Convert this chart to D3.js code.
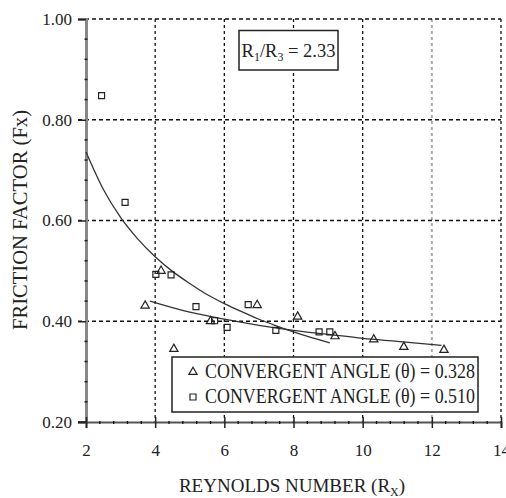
<!DOCTYPE html>
<html>
<head>
<meta charset="utf-8">
<script src="https://cdn.jsdelivr.net/npm/d3@7"></script>
<style>
  body { margin: 0; background: #fff; }
  svg { display: block; }
  text { font-family: "Liberation Serif", "Times New Roman", serif; fill: #222; }
</style>
</head>
<body>
<svg id="chart" width="506" height="498"></svg>
<script>
// Friction factor vs Reynolds number, two convergent angles
const xTicks = [2, 4, 6, 8, 10, 12, 14];
const yTicks = [0.20, 0.40, 0.60, 0.80, 1.00];

// θ = 0.328 (triangles)
const triX = [3.71, 4.17, 4.54, 5.60, 6.95, 8.12, 9.20, 10.32, 11.19, 12.35];
const triY = [0.431, 0.500, 0.345, 0.400, 0.432, 0.409, 0.370, 0.364, 0.349, 0.343];
// θ = 0.510 (squares)
const sqX = [2.45, 3.13, 4.02, 4.46, 5.18, 5.72, 6.08, 6.69, 7.49, 8.74, 9.05];
const sqY = [0.848, 0.636, 0.493, 0.492, 0.429, 0.401, 0.388, 0.433, 0.382, 0.379, 0.379];

// fitted trend lines, sampled along each curve
const triFitX = [3.85, 5, 6, 7, 8, 9, 10, 11, 12.28];
const triFitY = [0.440, 0.418, 0.404, 0.392, 0.382, 0.374, 0.366, 0.360, 0.352];
const sqFitX = [2, 2.5, 3, 3.5, 4, 4.5, 5, 5.5, 6, 6.5, 7, 7.5, 8, 8.5, 9.05];
const sqFitY = [0.736, 0.662, 0.606, 0.563, 0.528, 0.499, 0.475, 0.453, 0.435, 0.419, 0.404, 0.391, 0.379, 0.368, 0.357];

const legendLabels = ["CONVERGENT ANGLE (\u03B8) = 0.328", "CONVERGENT ANGLE (\u03B8) = 0.510"];

const svg = d3.select("#chart");
const x = d3.scaleLinear().domain([2, 14]).range([86, 501]);
const y = d3.scaleLinear().domain([0.2, 1.0]).range([422, 19]);

// grid lines (dashed)
const grid = svg.append("g");
grid.selectAll("line.v").data(xTicks.slice(1)).join("line")
  .attr("x1", d => x(d)).attr("x2", d => x(d))
  .attr("y1", y(1.0)).attr("y2", y(0.2))
  .attr("stroke", d => d === 12 ? "#aaa" : "#111")
  .attr("stroke-width", d => d === 12 ? 2 : 1.3)
  .attr("stroke-dasharray", "3,3");
grid.selectAll("line.h").data(yTicks.slice(1)).join("line")
  .attr("x1", x(2) - 8).attr("x2", x(14))
  .attr("y1", d => y(d)).attr("y2", d => y(d))
  .attr("stroke", "#111").attr("stroke-width", 1.3)
  .attr("stroke-dasharray", "4,3");

// axes
const yAxis = svg.append("g").attr("transform", `translate(${x(2)},0)`)
  .call(d3.axisLeft(y).tickValues(yTicks).tickFormat(d3.format(".2f")).tickSize(8).tickPadding(6));
yAxis.select(".domain").attr("stroke", "#888").attr("stroke-width", 3);
yAxis.selectAll(".tick line").attr("stroke", "#222").attr("stroke-width", 1.5);
yAxis.selectAll("text").style("font-size", "17px").attr("fill", "#222")
  .style("font-family", "Liberation Serif, serif");

const xAxis = svg.append("g").attr("transform", `translate(0,${y(0.2)})`)
  .call(d3.axisBottom(x).tickValues(xTicks).tickFormat(d3.format("d")).tickSize(6).tickPadding(16));
xAxis.select(".domain").attr("stroke", "#555").attr("stroke-width", 2);
xAxis.selectAll(".tick line").attr("stroke", "#222").attr("stroke-width", 1.5).attr("y1", -5);
xAxis.selectAll("text").style("font-size", "17px").attr("fill", "#222")
  .style("font-family", "Liberation Serif, serif");
svg.append("line").attr("x1", x(2) - 8).attr("x2", x(2))
  .attr("y1", y(0.2)).attr("y2", y(0.2)).attr("stroke", "#222").attr("stroke-width", 1.5);

// minor ticks
const xMinor = d3.range(2, 14.001, 0.4).filter(v => Math.abs(v - Math.round(v / 2) * 2) > 0.01);
svg.append("g").selectAll("line").data(xMinor).join("line")
  .attr("x1", d => x(d)).attr("x2", d => x(d))
  .attr("y1", y(0.2) - 1).attr("y2", y(0.2) + 2)
  .attr("stroke", "#111").attr("stroke-width", 1.3);
const yMinor = d3.range(0.2, 1.0001, 0.04).filter(v => Math.abs(v * 5 - Math.round(v * 5)) > 0.01);
svg.append("g").selectAll("line").data(yMinor).join("line")
  .attr("x1", x(2) - 1.5).attr("x2", x(2) + 1.5)
  .attr("y1", d => y(d)).attr("y2", d => y(d))
  .attr("stroke", "#222").attr("stroke-width", 1.5);

// trend lines
const line = d3.line().x(d => x(d[0])).y(d => y(d[1])).curve(d3.curveMonotoneX);
svg.append("path").datum(sqFitX.map((v, i) => [v, sqFitY[i]]))
  .attr("d", line).attr("fill", "none").attr("stroke", "#333").attr("stroke-width", 1.3);
svg.append("path").datum(triFitX.map((v, i) => [v, triFitY[i]]))
  .attr("d", line).attr("fill", "none").attr("stroke", "#333").attr("stroke-width", 1.3);

// markers
const triSym = d3.symbol().type(d3.symbolTriangle).size(30);
const sqSym = d3.symbol().type(d3.symbolSquare).size(36);
svg.append("g").selectAll("path").data(sqX.map((v, i) => [v, sqY[i]])).join("path")
  .attr("d", sqSym).attr("transform", d => `translate(${x(d[0])},${y(d[1])})`)
  .attr("fill", "none").attr("stroke", "#222").attr("stroke-width", 1.2);
svg.append("g").selectAll("path").data(triX.map((v, i) => [v, triY[i]])).join("path")
  .attr("d", triSym).attr("transform", d => `translate(${x(d[0])},${y(d[1])})`)
  .attr("fill", "none").attr("stroke", "#222").attr("stroke-width", 1.2);

// ratio annotation
const ann = svg.append("g");
ann.append("rect").attr("x", 239).attr("y", 30.5).attr("width", 99).attr("height", 39.5)
  .attr("fill", "#fff").attr("stroke", "#222").attr("stroke-width", 1.5);
const annT = ann.append("text").attr("x", 288.5).attr("y", 57).attr("text-anchor", "middle")
  .style("font-size", "18.5px");
annT.append("tspan").text("R");
annT.append("tspan").attr("dy", 4).style("font-size", "12px").text("1");
annT.append("tspan").attr("dy", -4).text("/R");
annT.append("tspan").attr("dy", 4).style("font-size", "12px").text("3");
annT.append("tspan").attr("dy", -4).text(" = 2.33");

// legend
const leg = svg.append("g");
leg.append("rect").attr("x", 172).attr("y", 357).attr("width", 306).attr("height", 55)
  .attr("fill", "#fff").attr("stroke", "#222").attr("stroke-width", 1.5);
const legRows = [{ sym: triSym, label: legendLabels[0], yy: 378 }, { sym: sqSym, label: legendLabels[1], yy: 403 }];
legRows.forEach(r => {
  leg.append("path").attr("d", r.sym).attr("transform", `translate(193,${r.yy - 6})`)
    .attr("fill", "none").attr("stroke", "#222").attr("stroke-width", 1.2);
  leg.append("text").attr("x", 205).attr("y", r.yy).style("font-size", "20px")
    .attr("textLength", 270).attr("lengthAdjust", "spacingAndGlyphs").text(r.label);
});

// axis titles
const xt = svg.append("text").attr("x", 292).attr("y", 492).attr("text-anchor", "middle")
  .style("font-size", "19px");
xt.append("tspan").text("REYNOLDS NUMBER (R");
xt.append("tspan").attr("dy", 4).style("font-size", "12px").text("X");
xt.append("tspan").attr("dy", -4).text(")");

svg.append("text").attr("transform", "translate(27,220) rotate(-90)").attr("text-anchor", "middle")
  .style("font-size", "20px").attr("textLength", 220).attr("lengthAdjust", "spacingAndGlyphs")
  .text("FRICTION FACTOR (Fx)");
</script>
</body>
</html>
